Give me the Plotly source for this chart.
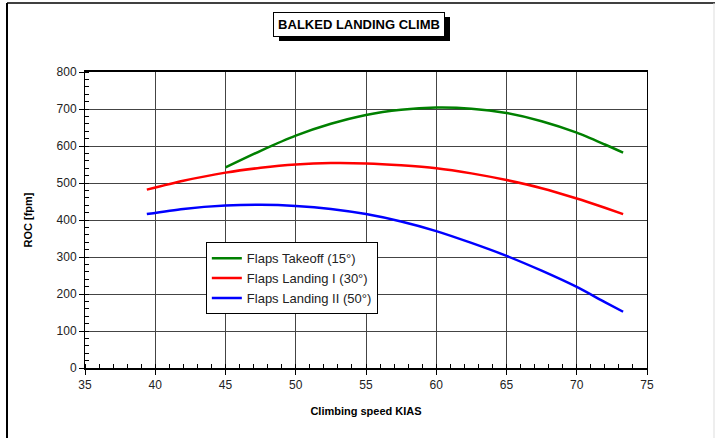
import plotly.graph_objects as go

takeoff_x = [45, 47.5, 50, 52.5, 55, 57.5, 60, 62.5, 65, 67.5, 70, 72, 73.3]
takeoff_y = [542, 587, 628, 660, 684, 698, 704, 701, 689, 667, 636, 604, 582]

landing1_x = [39.4, 42, 45, 47.5, 50, 52.5, 55, 57.5, 60, 62.5, 65, 67.5, 70, 72, 73.3]
landing1_y = [482, 506, 528, 541, 550, 554, 553, 548, 540, 526, 508, 486, 458, 433, 416]

landing2_x = [39.4, 42, 45, 47.5, 50, 52.5, 55, 57.5, 60, 62.5, 65, 67.5, 70, 72, 73.3]
landing2_y = [416, 430, 439, 441, 438, 430, 416, 396, 370, 338, 303, 263, 219, 178, 152]

names = ["Flaps Takeoff (15°)", "Flaps Landing I (30°)", "Flaps Landing II (50°)"]
colors = ["#008000", "#ff0000", "#0000ff"]

FONT = "Liberation Sans, Arial, sans-serif"

fig = go.Figure()
for xs, ys, n, c in zip([takeoff_x, landing1_x, landing2_x],
                        [takeoff_y, landing1_y, landing2_y], names, colors):
    fig.add_trace(go.Scatter(x=xs, y=ys, mode="lines", name=n,
                             line=dict(color=c, width=2.5, shape="spline", smoothing=0.7)))

fig.update_layout(
    width=715, height=438,
    margin=dict(l=85, r=68, t=72, b=70),
    paper_bgcolor="white", plot_bgcolor="white",
    font=dict(family=FONT, size=12, color="#222"),
    showlegend=True,
    legend=dict(x=0.215, y=0.425, xanchor="left", yanchor="top",
                bgcolor="white", bordercolor="black", borderwidth=1,
                font=dict(family=FONT, size=13, color="#222"),
                tracegroupgap=0, itemwidth=30),
    xaxis=dict(range=[35, 75], dtick=5, tick0=35, showgrid=True, gridcolor="#444", gridwidth=1,
               ticks="outside", ticklen=5, tickcolor="black",
               minor=dict(dtick=1, ticks="inside", ticklen=4, tickcolor="black", showgrid=False),
               showline=True, linecolor="black", linewidth=2, mirror=True,
               zeroline=False,
               title=dict(text="<b>Climbing speed KIAS</b>", font=dict(family=FONT, size=11, color="black"),
                          standoff=16)),
    yaxis=dict(range=[0, 800], dtick=100, showgrid=True, gridcolor="#444", gridwidth=1,
               ticks="outside", ticklen=5, tickcolor="black",
               minor=dict(dtick=20, ticks="inside", ticklen=4, tickcolor="black", showgrid=False),
               showline=True, linecolor="black", linewidth=1, mirror=True,
               zeroline=False,
               title=dict(text="<b>ROC [fpm]</b>", font=dict(family=FONT, size=11, color="black"),
                          standoff=21)),
)

# title shadow (shape) and boxed title
fig.add_shape(type="rect", xref="paper", yref="paper", layer="below",
              x0=(279 - 85) / 562, x1=(450 - 85) / 562,
              y0=(368 - 41) / 296, y1=(368 - 17) / 296,
              fillcolor="black", line=dict(width=0))
fig.add_annotation(xref="paper", yref="paper", x=(359 - 85) / 562, y=(368 - 24) / 296,
                   xanchor="center", yanchor="middle",
                   text="<b>BALKED LANDING CLIMB</b>", showarrow=False,
                   font=dict(family=FONT, size=13, color="black"),
                   width=164, height=17, align="center",
                   bgcolor="white", bordercolor="black", borderwidth=1, borderpad=3)

# outer frame (left and top edges)
fig.add_shape(type="line", xref="paper", yref="paper", x0=(7 - 85) / 562, x1=(7 - 85) / 562,
              y0=-0.25, y1=(368 - 3) / 296, line=dict(color="black", width=2))
fig.add_shape(type="line", xref="paper", yref="paper", x0=(7 - 85) / 562, x1=1.13,
              y0=(368 - 3) / 296, y1=(368 - 3) / 296, line=dict(color="black", width=1.5))
fig.add_shape(type="line", xref="paper", yref="paper", x0=(714 - 85) / 562, x1=(714 - 85) / 562,
              y0=-0.25, y1=(368 - 3) / 296, line=dict(color="#ddd", width=1))

fig.write_html("out.html", config={"displayModeBar": False},
               post_script="document.body.style.margin='0px';")
